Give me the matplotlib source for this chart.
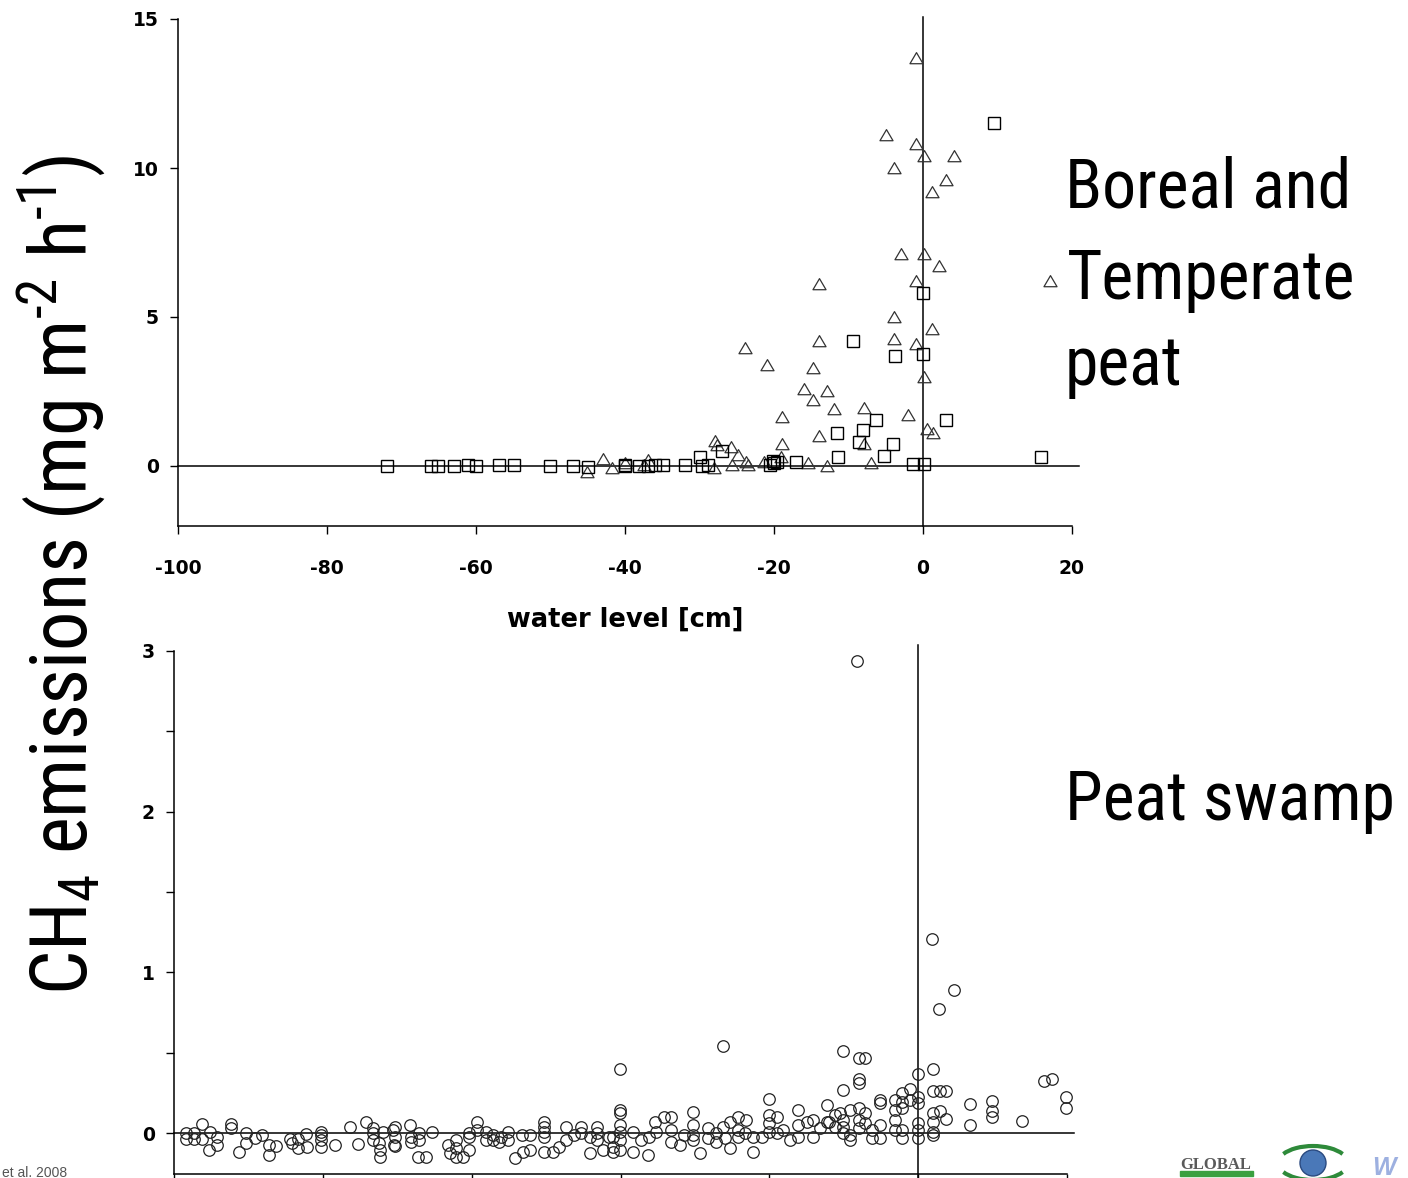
import matplotlib
matplotlib.use('Agg')
import matplotlib.pyplot as plt
from matplotlib import font_manager
from matplotlib.patches import Rectangle, Ellipse, Arc
from matplotlib.path import Path
import numpy as np

plt.rcParams['axes.unicode_minus'] = False

# --- values: (water level [cm], CH4 flux) ---
# boreal and temperate peat, triangles
boreal_triangles = [
    (-0.9, 13.7), (-5.0, 11.1), (-0.9, 10.8), (0.1, 10.4), (4.1, 10.4),
    (-3.9, 10.0), (3.1, 9.6), (1.2, 9.2), (-2.9, 7.1), (0.1, 7.1),
    (2.2, 6.7), (-13.9, 6.1), (-0.9, 6.2), (17.1, 6.2), (-3.9, 5.0),
    (1.2, 4.6), (-13.9, 4.2), (-3.9, 4.25), (-0.9, 4.1), (-23.9, 3.95),
    (-21.0, 3.4), (-14.8, 3.3), (0.1, 3.0), (-16.0, 2.6), (-12.9, 2.5),
    (-14.8, 2.2), (-12.0, 1.9), (-7.9, 1.95), (-18.9, 1.65), (-2.0, 1.7),
    (0.5, 1.25), (1.3, 1.1), (-13.9, 1.0), (-18.9, 0.75), (-7.9, 0.75),
    (-27.9, 0.85), (-27.7, 0.7), (-25.8, 0.65), (-12.9, 0.0), (-7.0, 0.1),
    (-45.1, -0.2), (-42.9, 0.22), (-41.8, -0.08), (-40.0, 0.1), (-36.9, 0.2),
    (-24.8, 0.37), (-28.1, -0.08), (-25.7, 0.03), (-23.7, 0.14), (-21.4, 0.14),
    (-19.0, 0.3), (-15.4, 0.1), (-23.5, 0.02), (-37.5, 0.05),
]
# boreal and temperate peat, squares
boreal_squares = [
    (9.5, 11.5), (0.0, 5.8), (-9.4, 4.2), (-3.8, 3.7), (0.0, 3.75),
    (-6.3, 1.55), (3.1, 1.55), (-11.6, 1.1), (-8.1, 1.2), (-8.6, 0.8),
    (-4.0, 0.75), (-5.3, 0.35), (-11.4, 0.3), (15.9, 0.3), (-29.9, 0.3),
    (-27.0, 0.5), (-1.3, 0.08), (0.1, 0.08), (-20.0, 0.1), (-17.0, 0.13),
    (-32.0, 0.03), (-29.7, 0.0), (-28.9, 0.02), (-20.5, 0.05), (-19.6, 0.12),
    (-20.2, 0.18), (-72.0, 0.0), (-66.0, 0.0), (-65.1, 0.0), (-63.0, 0.0),
    (-61.1, 0.05), (-60.0, 0.0), (-56.9, 0.03), (-54.9, 0.03), (-50.1, 0.0),
    (-47.0, 0.0), (-45.0, -0.02), (-40.0, 0.0), (-38.1, 0.0), (-36.9, 0.0),
    (-36.0, 0.02), (-34.9, 0.02), (-40.0, 0.05),
]
# peat swamp, circles
swamp_circles = [
    (-98.4, 0.0), (-98.4, -0.04), (-97.3, 0.0), (-97.3, -0.04), (-96.3, 0.056),
    (-96.2, -0.04), (-95.2, 0.008), (-95.3, -0.106), (-94.2, -0.023), (-94.2, -0.074),
    (-92.4, 0.056), (-92.4, 0.029), (-91.3, -0.116), (-90.3, -0.002), (-90.3, -0.06),
    (-89.1, -0.033), (-88.2, -0.012), (-87.3, -0.074), (-87.3, -0.137), (-86.3, -0.08),
    (-84.4, -0.04), (-84.1, -0.064), (-83.3, -0.04), (-83.3, -0.095), (-82.3, -0.008),
    (-82.1, -0.089), (-80.3, 0.008), (-80.3, -0.012), (-80.3, -0.044), (-80.3, -0.085),
    (-78.3, -0.074), (-76.3, 0.039), (-75.3, -0.068), (-74.2, 0.066), (-73.3, 0.029),
    (-73.3, -0.002), (-73.3, -0.044), (-72.4, -0.064), (-72.3, -0.106), (-72.3, -0.147),
    (-71.9, 0.008), (-70.6, 0.019), (-70.4, -0.074),
    (-70.3, 0.039), (-70.3, -0.023), (-70.3, -0.08), (-68.3, 0.05), (-68.2, -0.023),
    (-68.2, -0.054), (-67.1, 0.002), (-67.1, -0.044), (-67.2, -0.147), (-66.1, -0.147),
    (-65.3, 0.008), (-63.2, -0.074), (-62.9, -0.127), (-62.1, -0.044), (-62.1, -0.095),
    (-62.1, -0.147), (-61.2, -0.147), (-60.3, 0.002), (-60.3, -0.023), (-60.3, -0.106),
    (-59.3, 0.07), (-59.3, 0.019), (-58.1, 0.008), (-58.1, -0.044), (-57.2, -0.012),
    (-57.2, -0.044), (-56.3, -0.054), (-56.0, -0.023), (-55.1, 0.008), (-55.1, -0.044),
    (-54.2, -0.158), (-53.3, -0.012), (-53.1, -0.116), (-52.2, -0.106), (-52.1, -0.012),
    (-50.3, 0.07), (-50.3, 0.039), (-50.3, 0.008), (-50.3, -0.023), (-50.3, -0.116),
    (-49.1, -0.116), (-48.2, -0.085), (-47.3, 0.039), (-47.3, -0.044), (-46.2, -0.012),
    (-45.3, 0.039), (-45.3, -0.002), (-44.1, -0.023), (-44.1, -0.127), (-43.2, 0.039),
    (-43.2, -0.002), (-43.2, -0.044), (-42.4, -0.106), (-41.5, -0.023), (-41.0, -0.116),
    (-40.1, 0.40), (-40.1, 0.143), (-40.1, 0.122), (-40.1, 0.05), (-40.1, 0.008),
    (-40.1, -0.044), (-40.1, -0.106), (-41.0, -0.023), (-41.0, -0.085), (-38.3, 0.008),
    (-38.3, -0.116), (-37.2, -0.044), (-36.3, -0.137), (-36.2, -0.023), (-35.3, 0.07),
    (-35.2, 0.008), (-34.1, 0.102), (-33.2, 0.102), (-33.2, 0.019), (-33.2, -0.054),
    (-32.0, -0.075), (-31.4, -0.012), (-30.2, 0.133), (-30.2, 0.05), (-30.2, -0.012),
    (-30.2, -0.044), (-29.3, -0.126), (-28.2, 0.029), (-28.2, -0.033), (-27.1, -0.002),
    (-27.1, -0.054), (-26.2, 0.039), (-26.0, -0.033), (-25.3, 0.07), (-25.3, -0.095),
    (-24.2, 0.102), (-24.2, 0.019), (-24.2, -0.023), (-23.3, -0.002), (-23.2, 0.081),
    (-22.2, -0.116), (-22.2, -0.023), (-21.0, -0.023), (-20.1, 0.21), (-20.1, 0.112),
    (-20.1, 0.06), (-20.1, 0.008), (-19.0, 0.102), (-19.0, -0.002), (-18.1, 0.019),
    (-17.2, -0.044), (-16.1, 0.143), (-16.1, 0.05), (-16.1, -0.023), (-15.0, 0.07),
    (-14.1, 0.081), (-14.1, -0.023), (-13.2, 0.029), (-12.2, 0.174), (-12.2, 0.07),
    (-10.5, 0.122), (-26.2, 0.54),
    (-10.1, 0.51), (-8.0, 0.465), (-7.1, 0.465), (-8.0, 0.334), (-8.0, 0.309),
    (-10.1, 0.268), (0.0, 0.367), (2.0, 0.396), (2.0, 0.263), (2.9, 0.263),
    (3.8, 0.263), (-1.1, 0.271), (-2.2, 0.251), (6.9, 0.18), (6.9, 0.05),
    (9.9, 0.2), (9.9, 0.139), (9.9, 0.10), (13.9, 0.075), (16.9, 0.326),
    (18.0, 0.334), (19.9, 0.222), (19.9, 0.154), (3.8, 0.085), (2.9, 0.139),
    (2.0, 0.122), (2.0, 0.07), (2.0, 0.008), (2.0, -0.012), (0.0, 0.226),
    (0.0, 0.185), (0.0, 0.06), (0.0, 0.019), (0.0, -0.033), (-1.1, 0.205),
    (-2.2, 0.195), (-2.2, 0.154), (-3.1, 0.205), (-3.1, 0.143), (-3.1, 0.081),
    (-3.1, 0.019), (-2.2, 0.019), (-2.2, -0.033), (-5.1, 0.205), (-5.1, 0.185),
    (-5.1, 0.05), (-5.1, -0.033), (-6.2, -0.033), (-6.2, 0.019), (-7.1, 0.122),
    (-7.1, 0.06), (-8.0, 0.154), (-8.0, 0.081), (-8.0, 0.029), (-9.2, 0.143),
    (-9.2, -0.044), (-9.2, -0.012), (-10.1, 0.081), (-10.1, 0.039), (-10.1, -0.002),
    (-11.2, 0.112), (-11.2, 0.039), (-12.0, 0.07),
    (-8.2, 2.94), (1.9, 1.21), (4.85, 0.89), (2.8, 0.77),
]

x_ticks = [-100, -80, -60, -40, -20, 0, 20]
top_y_ticks = [0, 5, 10, 15]
bottom_y_ticks = [0, 1, 2, 3]
bottom_y_minor = [0.5, 1.5, 2.5]

W, H = 1408, 1178


# pick a narrow sans for the slide text (Arial Narrow look) if one is installed
def pick_narrow():
    fonts = font_manager.fontManager.ttflist
    names = {f.name for f in fonts}
    for name in ['Liberation Sans Narrow', 'Arial Narrow', 'Roboto Condensed',
                 'DejaVu Sans Condensed', 'Open Sans Condensed', 'Noto Sans Condensed']:
        if name in names:
            return name, 'normal'
    for name in ['Roboto', 'Noto Sans', 'Open Sans', 'DejaVu Sans']:
        for f in fonts:
            if f.name == name and 'condensed' in str(f.stretch) and f.style == 'normal':
                return name, 'condensed'
    return 'Liberation Sans', 'normal'


narrow_family, narrow_stretch = pick_narrow()
plt.rcParams['mathtext.fontset'] = 'custom'
plt.rcParams['mathtext.rm'] = f'{narrow_family}:stretch={narrow_stretch}'
plt.rcParams['mathtext.it'] = f'{narrow_family}:stretch={narrow_stretch}'

fig = plt.figure(figsize=(W / 100, H / 100), dpi=100)


def px_box(left, right, top, bottom):
    # axes rectangle from pixel edges of the slide
    return [left / W, 1 - bottom / H, (right - left) / W, (bottom - top) / H]


def style_axes(ax):
    for side in ['top', 'right']:
        ax.spines[side].set_visible(False)
    for side in ['left', 'bottom']:
        ax.spines[side].set_linewidth(1.1)
    ax.tick_params(direction='out', length=5.8, width=1.0)
    ax.tick_params(axis='x', pad=18)
    ax.tick_params(axis='y', pad=8)


tri_marker = Path([(-1, -0.8), (1, -0.8), (0, 0.9), (-1, -0.8)], closed=True)
# the embedded plot is stretched sideways, so a wide bold sans matches best
plot_font = ['DejaVu Sans']
tick_font = dict(fontsize=13.5, fontweight='bold', family=plot_font)

# ---------- top panel: boreal and temperate peat ----------
ax1 = fig.add_axes(px_box(178, 1072, 19, 525.6))
style_axes(ax1)
tri = np.array(boreal_triangles)
sq = np.array(boreal_squares)
ax1.plot([-100, 21], [0, 0], color='black', lw=1.1, clip_on=False, zorder=1)
ax1.plot([0, 0], [-2, 15.07], color='black', lw=1.1, clip_on=False, zorder=1)
ax1.plot(tri[:, 0], tri[:, 1], ls='none', marker=tri_marker, ms=9.4,
         mfc='none', mec='#333333', mew=0.9, clip_on=False, zorder=2)
ax1.plot(sq[:, 0], sq[:, 1], ls='none', marker='s', ms=8.0,
         mfc='none', mec='black', mew=1.0, clip_on=False, zorder=3)
ax1.set_xlim(-100, 20)
ax1.set_ylim(-2, 15)
ax1.set_xticks(x_ticks, labels=[str(t) for t in x_ticks], **tick_font)
ax1.set_yticks(top_y_ticks, labels=[str(t) for t in top_y_ticks], **tick_font)
ax1.text(0.5, -0.186, 'water level [cm]', transform=ax1.transAxes,
         ha='center', va='center', fontsize=18.5, fontweight='bold', family=plot_font)

# ---------- bottom panel: peat swamp (x labels fall below the slide) ----------
ax2 = fig.add_axes(px_box(174, 1067, 651, 1174))
style_axes(ax2)
circ = np.array(swamp_circles)
ax2.plot([-100, 21], [0, 0], color='black', lw=1.1, clip_on=False, zorder=1)
ax2.plot([0, 0], [-0.3, 3.04], color='black', lw=1.1, clip_on=False, zorder=1)
ax2.plot(circ[:, 0], circ[:, 1], ls='none', marker='o', ms=8.3,
         mfc='none', mec='#222222', mew=0.9, clip_on=False, zorder=2)
ax2.set_xlim(-100, 20)
ax2.set_ylim(-0.255, 3.0)
ax2.set_xticks(x_ticks, labels=[''] * len(x_ticks))
ax2.set_yticks(bottom_y_ticks, labels=[str(t) for t in bottom_y_ticks], **tick_font)
ax2.set_yticks(bottom_y_minor, minor=True)
ax2.tick_params(which='minor', direction='out', length=5.8, width=1.0)

# ---------- slide text ----------
big = dict(family=[narrow_family, 'Liberation Sans'], fontstretch=narrow_stretch)
ylab = fig.text(61 / W, 1 - 575 / H,
                r'CH$_4$ emissions (mg m$^{\text{-2}}$ h$^{\text{-1}}$)',
                rotation=90, ha='center', va='center', fontsize=65, **big)
# (text, left px, baseline px, target width px)
slide_lines = [('Boreal and', 1065, 208, 293), ('Temperate', 1067, 299, 291),
               ('peat', 1065, 385, 118), ('Peat swamp', 1065, 820, 330)]
line_texts = [fig.text(x / W, 1 - b / H, s, ha='left', va='baseline', fontsize=56, **big)
              for s, x, b, _ in slide_lines]

# shrink the big text if the installed font is wider than the original
renderer = fig.canvas.get_renderer()
scale = min(1.0, min(t_w / t.get_window_extent(renderer).width
                     for t, (_, _, _, t_w) in zip(line_texts, slide_lines)))
for t in line_texts:
    t.set_fontsize(56 * scale)
ylab_scale = min(1.0, 840 / ylab.get_window_extent(renderer).height)
ylab.set_fontsize(65 * ylab_scale)

fig.text(2 / W, 1 - 1177 / H, 'et al. 2008', ha='left', va='baseline',
         fontsize=10, color='#555555', family=['Liberation Sans'])

# ---------- logos in the corner ----------
fig.text(1180 / W, 1 - 1169 / H, 'GLOBAL', ha='left', va='baseline', fontsize=12,
         fontweight='bold', color='#5a5a5a', family=['Liberation Serif'])
fig.patches.append(Rectangle((1180 / W, 1 - 1176 / H), 73 / W, 5 / H,
                             transform=fig.transFigure, color='#3aa040'))
fig.patches.append(Ellipse((1313 / W, 1 - 1163 / H), 26 / W, 26 / H,
                           transform=fig.transFigure, facecolor='#4a78b8',
                           edgecolor='#2a4a80', lw=1))
fig.patches.append(Arc((1313 / W, 1 - 1163 / H), 70 / W, 34 / H, theta1=20, theta2=160,
                       transform=fig.transFigure, color='#2e8a3a', lw=3))
fig.patches.append(Arc((1313 / W, 1 - 1163 / H), 70 / W, 34 / H, theta1=200, theta2=340,
                       transform=fig.transFigure, color='#2e8a3a', lw=3))
fig.text(1372 / W, 1 - 1175 / H, 'W', ha='left', va='baseline', fontsize=18,
         fontweight='bold', style='italic', color='#9db0e0', family=['Liberation Sans'])

fig.savefig('out.png', dpi=100)
plt.close(fig)
